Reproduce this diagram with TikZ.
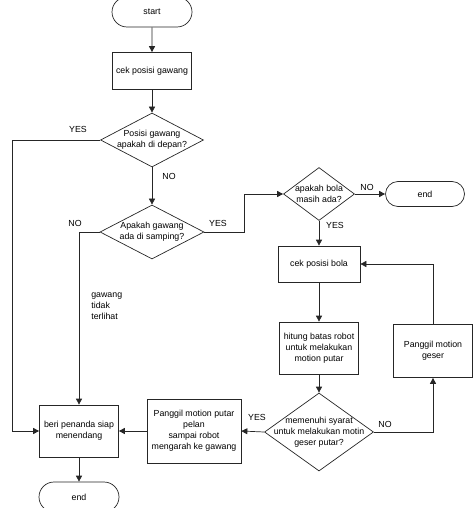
\documentclass[tikz,border=0pt]{standalone}
\usepackage{fontspec}
\setmainfont{Liberation Sans}
\usetikzlibrary{shapes.geometric,shapes.misc,arrows.meta}
\begin{document}
\begin{tikzpicture}[x=1pt,y=-1pt,
  font=\fontsize{8.8}{11}\selectfont,
  line width=0.7pt,
  box/.style={draw=black!85,rectangle,inner sep=0pt,align=center},
  term/.style={draw=black!85,rounded rectangle,inner sep=0pt,minimum width=80pt,minimum height=30pt},
  dec/.style={draw=black!85,diamond,inner sep=0pt},
  dtext/.style={align=center,inner sep=0pt},
  arr/.style={draw=black!85,-{Triangle[length=6pt,width=6pt]}},
  lab/.style={inner sep=0pt}
]
\useasboundingbox (0,0) rectangle (474,508);
\node[term] (start) at (152,12) {start};
\node[box,minimum width=79pt,minimum height=37pt] (cek) at (152,71) {cek posisi gawang};
\node[dec,minimum width=103pt,minimum height=54pt,label={[dtext]center:Posisi gawang\\apakah di depan?}] (d1) at (152,140) {};
\node[dec,minimum width=104pt,minimum height=54pt,label={[dtext]center:Apakah gawang\\ada di samping?}] (d2) at (152,232) {};
\node[dec,minimum width=71pt,minimum height=53pt,label={[dtext]center:apakah bola\\masih ada?}] (d3) at (319,194) {};
\node[term,minimum width=79pt,minimum height=25pt] (end1) at (425,194) {end};
\node[box,minimum width=82pt,minimum height=36pt] (bola) at (319,264) {cek posisi bola};
\node[box,minimum width=79pt,minimum height=52pt] (hitung) at (319,348) {hitung batas robot\\untuk melakukan\\motion putar};
\node[dec,minimum width=109pt,minimum height=78pt,label={[dtext]center:memenuhi syarat\\untuk melakukan motin\\geser putar?}] (d4) at (319,432) {};
\node[box,minimum width=79pt,minimum height=53pt] (geser) at (433,351) {Panggil motion\\geser};
\node[box,minimum width=94pt,minimum height=64pt] (putar) at (194,431) {Panggil motion putar\\pelan\\sampai robot\\mengarah ke gawang};
\node[box,minimum width=79pt,minimum height=52pt] (beri) at (79,431) {beri penanda siap\\menendang};
\node[term] (end2) at (79,497) {end};
\node[lab,anchor=north west,align=left] (gtt) at (91,292) {gawang\\tidak\\terlihat};
\coordinate (lft) at (12,0);
\coordinate (jx) at (244,0);
\draw[arr] (start) -- (cek);
\draw[arr] (cek) -- (d1);
\draw[arr] (d1) -- (d2);
\draw[arr] (d1.west) -- (d1.west -| lft) |- (beri.west);
\draw[arr] (d2.west) -| (beri.north);
\draw[arr] (d2.east) -- (d2.east -| jx) |- (d3.west);
\draw[arr] (d3.east) -- (end1.west);
\draw[arr] (d3.south) -- (bola.north);
\draw[arr] (bola) -- (hitung);
\draw[arr] (hitung) -- (d4);
\draw[arr] (d4.west) -- (putar.east);
\draw[arr] (d4.east) -| (geser.south);
\draw[arr] (geser.north) |- (bola.east);
\draw[arr] (putar.west) -- (beri.east);
\draw[arr] (beri) -- (end2);
\node[lab] (l1) at (78,129) {YES};
\node[lab] (l2) at (169,176) {NO};
\node[lab] (l3) at (75,223) {NO};
\node[lab] (l4) at (218,223) {YES};
\node[lab] (l5) at (367,187) {NO};
\node[lab] (l6) at (335,225) {YES};
\node[lab] (l7) at (257,417) {YES};
\node[lab] (l8) at (385,424) {NO};
\end{tikzpicture}
\end{document}
